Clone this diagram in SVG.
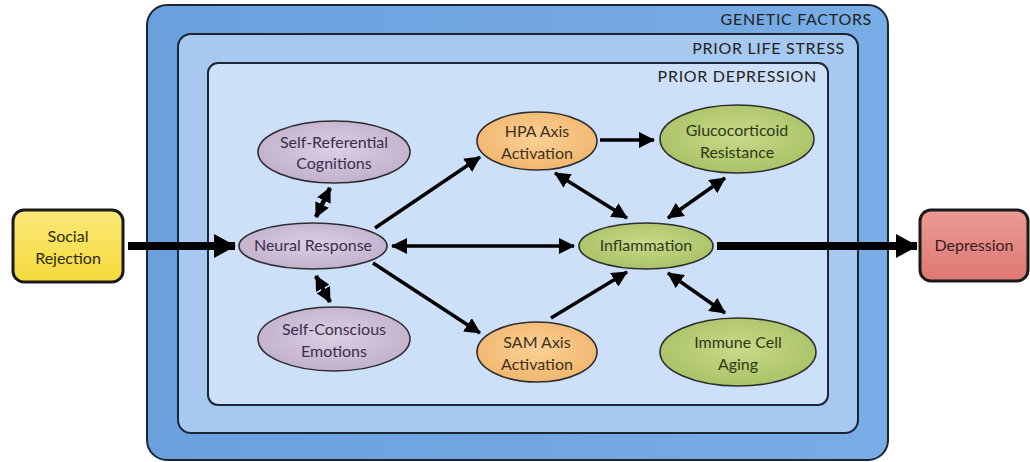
<svg xmlns="http://www.w3.org/2000/svg" width="1030" height="462" viewBox="0 0 1030 462">
<defs>
<style>
.frame{stroke:#1d2535;stroke-width:2}
.hdr{font-family:Lato,"Open Sans","Liberation Sans",sans-serif;font-size:16px;fill:#222;text-anchor:end;letter-spacing:0.7px}
.lbl{font-family:Lato,"Open Sans","Liberation Sans",sans-serif;font-size:16px;text-anchor:middle}
.ell{stroke:#2e2e2e;stroke-width:1.6}
.pur{fill:url(#gPur)}
.org{fill:url(#gOrg)}
.grn{fill:url(#gGrn)}
.tp{fill:#3a2f4c}
.to{fill:#3e3220}
.tg{fill:#2d3a18}
.con{stroke:#000;stroke-width:3.5;fill:none}
.thick{stroke:#000;stroke-width:8;fill:none}
.short{stroke:#000;stroke-width:4.5;fill:none}
</style>
<radialGradient id="gPur" cx="50%" cy="45%" r="60%"><stop offset="0" stop-color="#dccfe3"/><stop offset="1" stop-color="#bfaecb"/></radialGradient>
<radialGradient id="gOrg" cx="50%" cy="45%" r="60%"><stop offset="0" stop-color="#fbd196"/><stop offset="1" stop-color="#f0b46b"/></radialGradient>
<radialGradient id="gGrn" cx="50%" cy="45%" r="60%"><stop offset="0" stop-color="#c9da8a"/><stop offset="1" stop-color="#a8c064"/></radialGradient>
<linearGradient id="gOuter" x1="0" y1="0" x2="1" y2="0"><stop offset="0" stop-color="#6aa0dc"/><stop offset="1" stop-color="#78ade6"/></linearGradient>
<linearGradient id="gYel" x1="0" y1="0" x2="0" y2="1"><stop offset="0" stop-color="#fbe977"/><stop offset="1" stop-color="#f5da3c"/></linearGradient>
<linearGradient id="gRed" x1="0" y1="0" x2="0" y2="1"><stop offset="0" stop-color="#eb9a95"/><stop offset="1" stop-color="#dd7873"/></linearGradient>
<marker id="ah" markerUnits="userSpaceOnUse" markerWidth="16" markerHeight="16" viewBox="0 0 16 16" refX="15" refY="8" orient="auto-start-reverse"><path d="M0,0 L16,8 L0,16 z" fill="#000"/></marker>
<marker id="ahS" markerUnits="userSpaceOnUse" markerWidth="15" markerHeight="15" viewBox="0 0 15 15" refX="14" refY="7.5" orient="auto-start-reverse"><path d="M0,0 L15,7.5 L0,15 z" fill="#000"/></marker>
<marker id="ahB" markerUnits="userSpaceOnUse" markerWidth="22" markerHeight="24" viewBox="0 0 22 24" refX="21" refY="12" orient="auto"><path d="M0,0 L22,12 L0,24 z" fill="#000"/></marker>
</defs>
<rect width="1030" height="462" fill="#ffffff"/>

<g id="genetic-factors">
<rect class="frame" x="147" y="5" width="741" height="455" rx="20" fill="url(#gOuter)"/>
<text class="hdr" x="872" y="25">GENETIC FACTORS</text>
</g>
<g id="prior-life-stress">
<rect class="frame" x="178" y="34" width="680" height="399" rx="13" fill="#a7c8f0"/>
<text class="hdr" x="845" y="54">PRIOR LIFE STRESS</text>
</g>
<g id="prior-depression">
<rect class="frame" x="208" y="63" width="620" height="342" rx="10" fill="#cde0f9"/>
<text class="hdr" x="817" y="82">PRIOR DEPRESSION</text>
</g>

<g id="connectors">
<line class="thick" x1="128" y1="246" x2="235" y2="246" marker-end="url(#ahB)"/>
<line class="thick" x1="717" y1="246" x2="917" y2="246" marker-end="url(#ahB)"/>
<line class="con" x1="375" y1="228" x2="480" y2="157" marker-end="url(#ah)"/>
<line class="con" x1="373" y1="263" x2="480" y2="333" marker-end="url(#ah)"/>
<line class="con" x1="551" y1="318" x2="627" y2="272" marker-end="url(#ah)"/>
<line class="con" x1="392" y1="246" x2="574" y2="246" marker-start="url(#ah)" marker-end="url(#ah)"/>
<line class="con" x1="600" y1="140" x2="654" y2="140" marker-end="url(#ah)"/>
<line class="con" x1="555" y1="173" x2="627" y2="218" marker-start="url(#ah)" marker-end="url(#ah)"/>
<line class="con" x1="725" y1="178" x2="668" y2="218" marker-start="url(#ah)" marker-end="url(#ah)"/>
<line class="con" x1="668" y1="273" x2="725" y2="313" marker-start="url(#ah)" marker-end="url(#ah)"/>
<line class="short" x1="330" y1="188" x2="316" y2="217" marker-start="url(#ahS)" marker-end="url(#ahS)"/>
<line class="short" x1="316" y1="276" x2="330" y2="302" marker-start="url(#ahS)" marker-end="url(#ahS)"/>
</g>

<g id="social-rejection">
<rect x="13" y="210" width="110" height="72" rx="11" fill="url(#gYel)" stroke="#1a1a1a" stroke-width="3"/>
<text class="lbl" x="68" y="242" fill="#2e2a10">Social</text>
<text class="lbl" x="68" y="264" fill="#2e2a10">Rejection</text>
</g>
<g id="depression">
<rect x="920" y="210" width="108" height="71" rx="11" fill="url(#gRed)" stroke="#1a1a1a" stroke-width="3"/>
<text class="lbl" x="974" y="251" fill="#3a1c1c">Depression</text>
</g>
<g id="neural-response">
<ellipse class="ell pur" cx="313" cy="246" rx="74" ry="23"/>
<text class="lbl tp" x="313" y="251">Neural Response</text>
</g>
<g id="self-referential">
<ellipse class="ell pur" cx="334" cy="152" rx="76" ry="31"/>
<text class="lbl tp" x="334" y="148">Self-Referential</text>
<text class="lbl tp" x="334" y="169">Cognitions</text>
</g>
<g id="self-conscious">
<ellipse class="ell pur" cx="334" cy="339" rx="76" ry="32"/>
<text class="lbl tp" x="334" y="335">Self-Conscious</text>
<text class="lbl tp" x="334" y="357">Emotions</text>
</g>
<g id="hpa">
<ellipse class="ell org" cx="537" cy="141" rx="60" ry="29"/>
<text class="lbl to" x="537" y="137">HPA Axis</text>
<text class="lbl to" x="537" y="159">Activation</text>
</g>
<g id="sam">
<ellipse class="ell org" cx="537" cy="352" rx="60" ry="30"/>
<text class="lbl to" x="537" y="348">SAM Axis</text>
<text class="lbl to" x="537" y="370">Activation</text>
</g>
<g id="inflammation">
<ellipse class="ell grn" cx="646" cy="246" rx="67" ry="23"/>
<text class="lbl tg" x="646" y="251">Inflammation</text>
</g>
<g id="glucocorticoid">
<ellipse class="ell grn" cx="737" cy="139" rx="77" ry="34"/>
<text class="lbl tg" x="737" y="136">Glucocorticoid</text>
<text class="lbl tg" x="737" y="158">Resistance</text>
</g>
<g id="immune">
<ellipse class="ell grn" cx="738" cy="352" rx="78" ry="34"/>
<text class="lbl tg" x="738" y="348">Immune Cell</text>
<text class="lbl tg" x="738" y="370">Aging</text>
</g>
</svg>
